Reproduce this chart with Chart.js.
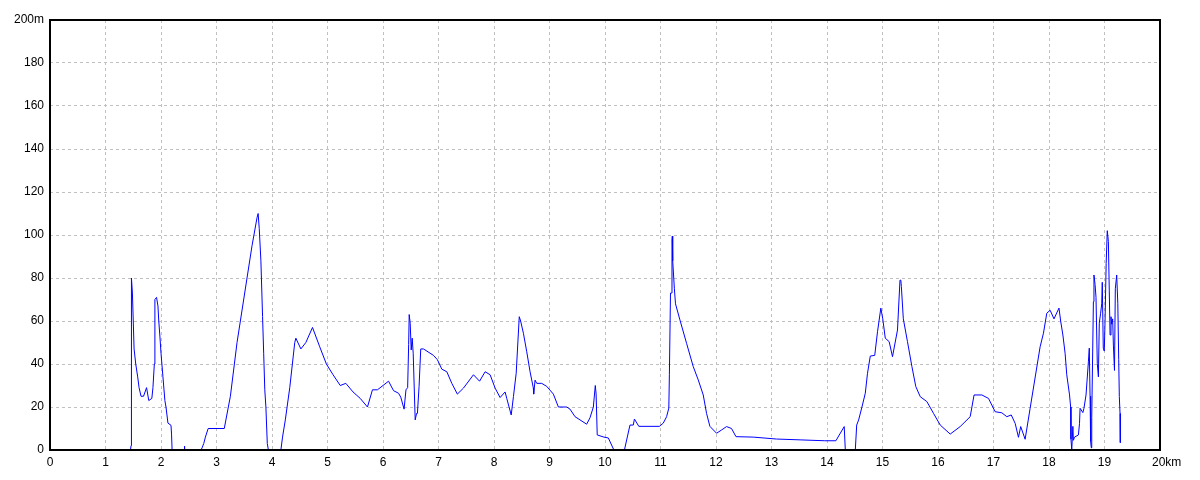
<!DOCTYPE html>
<html>
<head>
<meta charset="utf-8">
<script src="https://cdn.jsdelivr.net/npm/chart.js@4"></script>
<style>
  html, body { margin: 0; padding: 0; background: #ffffff; }
  #wrap { width: 1200px; height: 480px; }
</style>
</head>
<body>
<div id="wrap"><canvas id="c" width="1200" height="480"></canvas></div>
<script>
// Distance along route (km)
const distanceKm = [
  0, 1.450, 1.460, 1.465, 1.470, 1.485, 1.500, 1.515, 1.545, 1.580, 1.605, 1.640, 1.685, 1.740, 1.780, 1.835,
  1.855, 1.880, 1.890, 1.920, 1.945, 1.960, 1.980, 2.000, 2.035, 2.070, 2.090, 2.125, 2.180, 2.190, 2.200,
  2.418, 2.420, 2.430,
  2.720, 2.740, 2.770, 2.800, 2.850, 3.140, 3.250, 3.370, 3.550, 3.640, 3.730, 3.750, 3.760, 3.770, 3.800,
  3.830, 3.850, 3.870, 3.890, 3.915, 3.935,
  4.160, 4.190, 4.240, 4.320, 4.410, 4.430, 4.520, 4.610, 4.730, 4.860, 4.980, 5.100, 5.230, 5.330, 5.460,
  5.590, 5.720, 5.810, 5.900, 6.100, 6.190, 6.280, 6.320, 6.380, 6.414, 6.444, 6.462, 6.472, 6.490, 6.508,
  6.526, 6.544, 6.580, 6.605, 6.620, 6.650, 6.680, 6.730, 6.910, 6.980, 7.060, 7.150, 7.240, 7.340, 7.450,
  7.630, 7.740, 7.840, 7.930, 8.020, 8.110, 8.200, 8.230, 8.310, 8.350, 8.400, 8.455, 8.480, 8.530, 8.590,
  8.650, 8.709, 8.715, 8.740, 8.770, 8.860, 8.950, 9.070, 9.160, 9.310, 9.370, 9.460, 9.550, 9.670, 9.730,
  9.790, 9.825, 9.840, 9.860, 9.980, 10.060, 10.160, 10.350, 10.450, 10.510, 10.530, 10.610, 10.980, 11.050,
  11.110, 11.150, 11.160, 11.180, 11.195, 11.207, 11.213, 11.220, 11.250, 11.270, 11.350, 11.470, 11.590,
  11.680, 11.770, 11.830, 11.890, 12.010, 12.100, 12.190, 12.280, 12.360, 12.670, 13.090, 13.530, 13.960,
  14.160, 14.310, 14.330, 14.510, 14.535, 14.570, 14.630, 14.690, 14.730, 14.780, 14.860, 14.910, 14.970,
  15.005, 15.050, 15.120, 15.180, 15.270, 15.315, 15.330, 15.340, 15.375, 15.450, 15.530, 15.600, 15.680,
  15.800, 15.920, 16.040, 16.220, 16.400, 16.580, 16.650, 16.790, 16.910, 17.030, 17.150, 17.240, 17.320,
  17.390, 17.450, 17.490, 17.570, 17.660, 17.840, 17.900, 17.960, 18.020, 18.090, 18.180, 18.210, 18.250,
  18.290, 18.320, 18.370, 18.390, 18.396, 18.410, 18.430, 18.440, 18.460, 18.530, 18.550, 18.560, 18.610,
  18.630, 18.667, 18.710, 18.726, 18.740, 18.750, 18.762, 18.770, 18.800, 18.810, 18.830, 18.847, 18.870,
  18.890, 18.906, 18.930, 18.950, 18.960, 18.978, 18.996, 19.010, 19.030, 19.050, 19.070, 19.086, 19.100,
  19.117, 19.130, 19.147, 19.160, 19.180, 19.195, 19.220, 19.240, 19.256, 19.267, 19.280, 19.285
];
// Elevation (m)
const elevationM = [
  0, 0, 2, 55, 80, 73, 60, 47, 40, 34, 29, 25, 25, 29, 23, 24,
  29, 40, 70, 71, 67, 60, 53, 45, 34, 23, 20, 12.5, 11.5, 7.4, 0,
  0, 1.8, 0,
  0, 1, 3, 6, 10, 10, 25, 50, 80, 95, 108, 110, 110, 103, 88,
  62, 45, 28, 20, 3, 0,
  0, 6, 14, 29, 50, 52, 47, 50, 57, 48, 40, 35, 30, 31, 27,
  24, 20, 28, 28, 32, 27.6, 26.4, 24.6, 19, 28, 29, 49, 63, 59, 46.5,
  52, 45, 14, 17, 17, 29.6, 47, 47, 44, 42, 37.6, 36.4, 31, 26, 28.8,
  35, 32, 36.4, 35, 28.8, 24.4, 27, 24, 16.3, 24.8, 35.7, 62, 60, 54.3, 45.7,
  36.4, 28.8, 26, 32.5, 31, 31, 29.6, 26, 20, 20, 19, 15.5, 14, 12, 15,
  20, 30, 26, 7, 6, 5.6, 0, 0, 11.6, 11.6, 14.4, 11, 11, 12.5,
  15.5, 19.5, 35, 73, 73, 97.7, 99.5, 88, 75, 68, 60.5, 49.6, 38.8,
  32.6, 25.6, 17, 11, 7.8, 9.3, 10.9, 10, 6.2, 6, 5.1, 4.7, 4.3,
  4.3, 10.9, 0, 0, 11.6, 14, 20, 26.4, 35.7, 43.7, 44, 55, 66,
  61, 52, 50.4, 43.4, 55.8, 79, 79, 76, 61, 50.4, 38.8, 29.5, 24.8,
  22.5, 17, 11.6, 7.4, 10.9, 15.5, 25.6, 25.6, 24, 17.8, 17.3, 15.5, 16.3,
  12.4, 5.9, 10.9, 5, 19.4, 48, 54.3, 63.6, 65, 61, 66, 60, 53.5,
  45, 35, 25.6, 20, 5, 0, 11, 4.5, 6, 7, 12.4, 19.4, 17.4,
  19.4, 25.6, 41, 47.4, 25, 4, 1, 15, 69, 81.4, 77, 71, 40.3,
  34, 59, 63.6, 68, 78, 47.4, 46, 60, 86.8, 102, 97, 74, 53.5,
  62, 58.5, 61, 48.8, 37, 75, 81.4, 68, 42, 24.8, 17, 3.4
];
const xTickValues = [0,1,2,3,4,5,6,7,8,9,10,11,12,13,14,15,16,17,18,19,20];
const yTickValues = [0,20,40,60,80,100,120,140,160,180,200];
const xUnit = 'km';
const yUnit = 'm';

const points = distanceKm.map((d, i) => ({ x: d, y: elevationM[i] }));

const framePlugin = {
  id: 'frame',
  afterDatasetsDraw(chart) {
    const { ctx, chartArea: a } = chart;
    ctx.save();
    ctx.strokeStyle = '#000000';
    ctx.lineWidth = 2;
    ctx.strokeRect(a.left, a.top, a.right - a.left, a.bottom - a.top);
    ctx.restore();
  }
};

const font = { family: '"Liberation Sans Narrow", "Liberation Sans", Arial, sans-serif', size: 12 };

new Chart(document.getElementById('c'), {
  type: 'line',
  data: {
    datasets: [{
      data: points,
      borderColor: '#0000ff',
      borderWidth: 1,
      pointRadius: 0,
      tension: 0,
      fill: false
    }]
  },
  options: {
    responsive: false,
    animation: false,
    layout: { padding: { top: 20, right: 40, left: 0, bottom: 0 } },
    plugins: { legend: { display: false }, tooltip: { enabled: false } },
    scales: {
      x: {
        type: 'linear',
        min: 0, max: 20,
        afterBuildTicks(scale) { scale.ticks = xTickValues.map(v => ({ value: v })); },
        afterFit(scale) { scale.height = 30; },
        ticks: {
          color: '#000000', font, padding: 5, maxRotation: 0, autoSkip: false,
          callback: v => v === 20 ? '    20' + xUnit : String(v)
        },
        grid: { color: '#c0c0c0', drawTicks: false, lineWidth: 1 },
        border: { display: false, dash: [3, 3] }
      },
      y: {
        type: 'linear',
        min: 0, max: 200,
        afterBuildTicks(scale) { scale.ticks = yTickValues.map(v => ({ value: v })); },
        afterFit(scale) { scale.width = 50; },
        ticks: {
          color: '#000000', font, padding: 6, autoSkip: false,
          callback: v => v === 200 ? '200' + yUnit : String(v)
        },
        grid: { color: '#c0c0c0', drawTicks: false, lineWidth: 1 },
        border: { display: false, dash: [3, 3] }
      }
    }
  },
  plugins: [framePlugin]
});
</script>
</body>
</html>
